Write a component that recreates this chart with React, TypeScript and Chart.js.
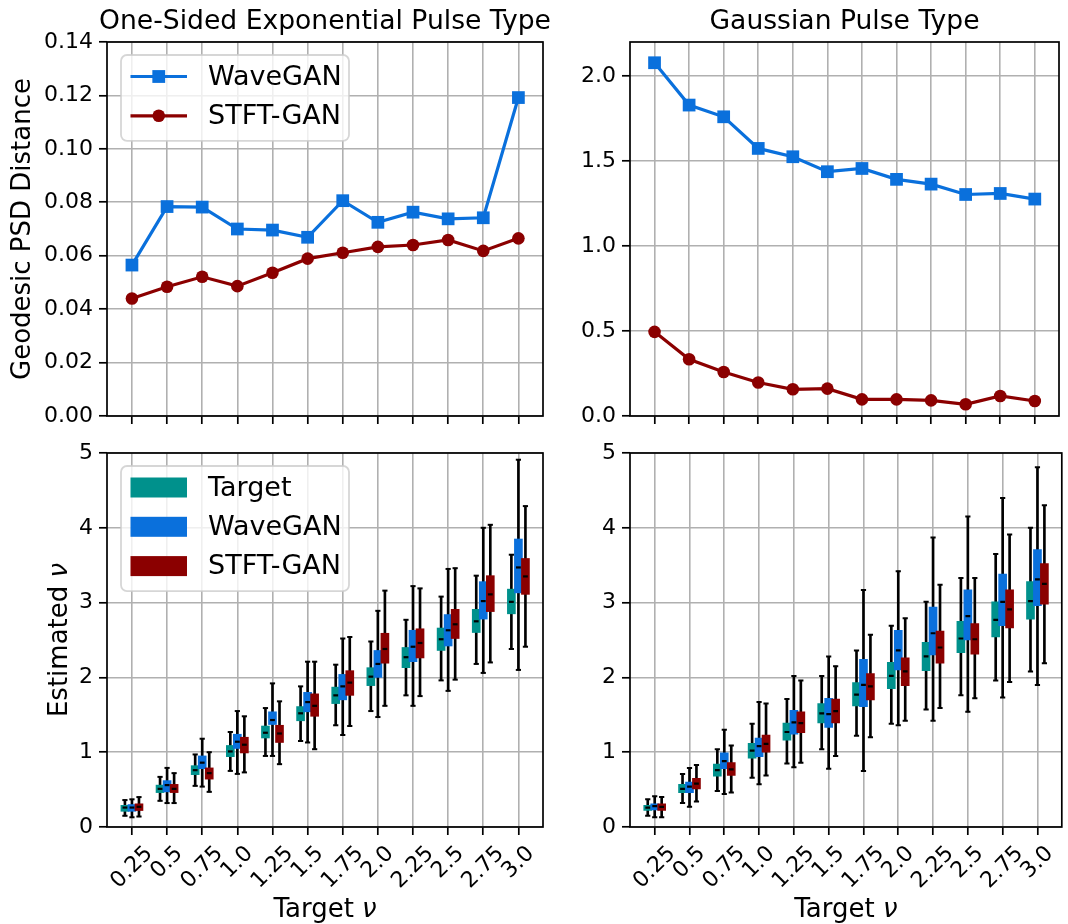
import React, { useEffect, useRef } from 'react';
import { Chart, registerables } from 'chart.js';

Chart.register(...registerables);

const FONT = "'DejaVu Sans', sans-serif";
Chart.defaults.font.family = FONT;

const W = 1068;
const H = 924;
const Y_AXIS_W = 100;

const TICK_PX = 22;
const TITLE_PX = 26.6;
const LABEL_PX = 26;
const LEGEND_PX = 27;

const TEAL = '#00918C';
const BLUE = '#0A70DC';
const DARK_RED = '#8B0000';
const GRID = '#b0b0b0';

// Target shape parameter values (x categories)
const TARGET_NU = ['0.25', '0.5', '0.75', '1.0', '1.25', '1.5', '1.75', '2.0', '2.25', '2.5', '2.75', '3.0'];

// y-axis tick values
const Y_TICKS_EXP_DIST = [0, 0.02, 0.04, 0.06, 0.08, 0.1, 0.12, 0.14];
const Y_TICKS_GAUSS_DIST = [0, 0.5, 1.0, 1.5, 2.0];
const Y_TICKS_NU = [0, 1, 2, 3, 4, 5];

// Geodesic PSD distance, one-sided exponential pulse
const EXP_DIST_WAVEGAN = [0.0565, 0.0784, 0.0782, 0.07, 0.0696, 0.0669, 0.0806, 0.0725, 0.0763, 0.0738, 0.0742, 0.1192];
const EXP_DIST_STFTGAN = [0.044, 0.0484, 0.0521, 0.0486, 0.0536, 0.0589, 0.0611, 0.0633, 0.064, 0.0659, 0.0618, 0.0665];

// Geodesic PSD distance, Gaussian pulse
const GAUSS_DIST_WAVEGAN = [2.078, 1.829, 1.76, 1.574, 1.525, 1.437, 1.456, 1.392, 1.364, 1.303, 1.309, 1.276];
const GAUSS_DIST_STFTGAN = [0.495, 0.334, 0.259, 0.197, 0.157, 0.161, 0.098, 0.098, 0.092, 0.069, 0.118, 0.088];

// Estimated nu box statistics: [whisker low, Q1, median, Q3, whisker high]
const EXP_NU_TARGET = [
  [0.15, 0.21, 0.26, 0.29, 0.36], [0.35, 0.46, 0.51, 0.56, 0.67], [0.55, 0.7, 0.76, 0.82, 0.97],
  [0.75, 0.94, 1.01, 1.09, 1.27], [0.95, 1.19, 1.26, 1.35, 1.59], [1.15, 1.42, 1.52, 1.61, 1.88],
  [1.36, 1.65, 1.76, 1.87, 2.17], [1.55, 1.89, 2.01, 2.13, 2.48], [1.76, 2.13, 2.27, 2.4, 2.77],
  [1.96, 2.36, 2.51, 2.66, 3.08], [2.18, 2.6, 2.75, 2.91, 3.36], [2.38, 2.85, 3.01, 3.18, 3.64],
];
const EXP_NU_WAVEGAN = [
  [0.13, 0.21, 0.26, 0.3, 0.37], [0.32, 0.47, 0.56, 0.62, 0.79], [0.54, 0.78, 0.86, 0.95, 1.18],
  [0.71, 1.05, 1.14, 1.24, 1.55], [0.95, 1.37, 1.43, 1.54, 1.92], [1.13, 1.54, 1.67, 1.8, 2.21],
  [1.23, 1.7, 1.88, 2.04, 2.52], [1.47, 2.0, 2.18, 2.36, 2.89], [1.62, 2.21, 2.41, 2.63, 3.22],
  [1.82, 2.42, 2.63, 2.84, 3.45], [2.06, 2.78, 3.02, 3.28, 4.0], [2.1, 3.13, 3.47, 3.85, 4.91],
];
const EXP_NU_STFTGAN = [
  [0.14, 0.22, 0.27, 0.31, 0.4], [0.32, 0.46, 0.51, 0.57, 0.72], [0.47, 0.64, 0.72, 0.79, 1.0],
  [0.73, 0.99, 1.1, 1.2, 1.48], [0.84, 1.13, 1.25, 1.36, 1.68], [1.04, 1.48, 1.62, 1.78, 2.21],
  [1.35, 1.76, 1.93, 2.09, 2.54], [1.62, 2.19, 2.38, 2.59, 3.16], [1.75, 2.26, 2.46, 2.65, 3.19],
  [1.97, 2.52, 2.71, 2.91, 3.46], [2.2, 2.88, 3.11, 3.36, 4.04], [2.41, 3.11, 3.35, 3.59, 4.29],
];

const GAUSS_NU_TARGET = [
  [0.15, 0.22, 0.26, 0.29, 0.37], [0.32, 0.46, 0.51, 0.57, 0.71], [0.48, 0.68, 0.76, 0.84, 1.04],
  [0.66, 0.92, 1.02, 1.12, 1.38], [0.85, 1.16, 1.27, 1.39, 1.71], [1.04, 1.39, 1.52, 1.65, 2.02],
  [1.22, 1.62, 1.77, 1.93, 2.36], [1.38, 1.85, 2.02, 2.2, 2.69], [1.57, 2.09, 2.28, 2.47, 3.01],
  [1.76, 2.33, 2.52, 2.75, 3.33], [1.96, 2.54, 2.77, 3.01, 3.65], [2.08, 2.78, 3.02, 3.28, 4.0],
];
const GAUSS_NU_WAVEGAN = [
  [0.13, 0.23, 0.28, 0.31, 0.41], [0.27, 0.46, 0.54, 0.6, 0.79], [0.44, 0.78, 0.88, 0.99, 1.3],
  [0.57, 0.94, 1.08, 1.19, 1.67], [0.8, 1.24, 1.4, 1.56, 2.02], [0.78, 1.33, 1.51, 1.72, 2.28],
  [0.75, 1.61, 1.9, 2.24, 3.17], [1.36, 2.1, 2.36, 2.63, 3.42], [1.42, 2.3, 2.59, 2.94, 3.87],
  [1.54, 2.5, 2.82, 3.17, 4.15], [1.73, 2.69, 3.01, 3.38, 4.4], [1.9, 2.96, 3.31, 3.71, 4.81],
];
const GAUSS_NU_STFTGAN = [
  [0.13, 0.22, 0.27, 0.31, 0.4], [0.34, 0.51, 0.58, 0.65, 0.83], [0.46, 0.69, 0.77, 0.86, 1.09],
  [0.69, 1.0, 1.11, 1.23, 1.65], [0.86, 1.26, 1.39, 1.54, 1.96], [0.95, 1.39, 1.55, 1.71, 2.15],
  [1.2, 1.7, 1.88, 2.05, 2.57], [1.42, 1.89, 2.08, 2.26, 2.79], [1.59, 2.19, 2.4, 2.62, 3.24],
  [1.72, 2.31, 2.51, 2.72, 3.33], [1.94, 2.66, 2.91, 3.17, 3.91], [2.19, 2.98, 3.25, 3.52, 4.3],
];

type Area = { left: number; top: number; right: number; bottom: number };

const AREA_TL: Area = { left: 107, top: 42, right: 543, bottom: 416 };
const AREA_TR: Area = { left: 630, top: 42, right: 1065, bottom: 416 };
const AREA_BL: Area = { left: 107, top: 453, right: 543, bottom: 827 };
const AREA_BR: Area = { left: 630, top: 453, right: 1065, bottom: 827 };

type TextPart = { text: string; italic?: boolean };

function drawParts(ctx: CanvasRenderingContext2D, parts: TextPart[], cx: number, y: number, px: number) {
  const fonts = parts.map((p) => `${p.italic ? 'italic ' : ''}${px}px ${FONT}`);
  const widths = parts.map((p, i) => {
    ctx.font = fonts[i];
    return ctx.measureText(p.text).width;
  });
  const total = widths.reduce((a, b) => a + b, 0);
  let x = cx - total / 2;
  ctx.textAlign = 'left';
  parts.forEach((p, i) => {
    ctx.font = fonts[i];
    ctx.fillText(p.text, x, y);
    x += widths[i];
  });
}

type LegendItem = { label: string; color: string; marker?: 'rect' | 'circle' };

// Frame, rotated x tick labels, titles, axis labels and legend
const panelDecor = {
  id: 'panelDecor',
  afterDraw(chart: any, _args: any, opts: any) {
    const { ctx, chartArea: a } = chart;
    const xs = chart.scales.x;
    ctx.save();
    ctx.fillStyle = '#000';

    // axes frame
    ctx.strokeStyle = '#000';
    ctx.lineWidth = 1.7;
    ctx.strokeRect(a.left, a.top, a.right - a.left, a.bottom - a.top);

    // rotated category labels
    if (opts.xTickLabels) {
      ctx.font = `${TICK_PX}px ${FONT}`;
      ctx.textAlign = 'center';
      ctx.textBaseline = 'middle';
      TARGET_NU.forEach((lab, i) => {
        const px = xs.getPixelForValue(i);
        const w = ctx.measureText(lab).width;
        const half = ((w + TICK_PX) * Math.SQRT1_2) / 2;
        ctx.save();
        ctx.translate(px, a.bottom + 15.5 + half);
        ctx.rotate(-Math.PI / 4);
        ctx.fillText(lab, 0, 0);
        ctx.restore();
      });
    }

    ctx.textBaseline = 'alphabetic';
    if (opts.title) {
      drawParts(ctx, [{ text: opts.title }], (a.left + a.right) / 2, a.top - 13, TITLE_PX);
    }
    if (opts.xLabel) {
      drawParts(ctx, opts.xLabel, (a.left + a.right) / 2, 917, LABEL_PX);
    }
    if (opts.yLabel) {
      ctx.save();
      ctx.translate(opts.yLabelX, (a.top + a.bottom) / 2);
      ctx.rotate(-Math.PI / 2);
      drawParts(ctx, opts.yLabel, 0, 0, LABEL_PX);
      ctx.restore();
    }

    // legend
    if (opts.legend) {
      const items: LegendItem[] = opts.legend.items;
      const bx = a.left + 14;
      const by = a.top + 13;
      const bw = 228;
      const step = 39.3;
      const bh = 21.5 + (items.length - 1) * step + 25;
      const r = 6;
      ctx.beginPath();
      ctx.moveTo(bx + r, by);
      ctx.arcTo(bx + bw, by, bx + bw, by + bh, r);
      ctx.arcTo(bx + bw, by + bh, bx, by + bh, r);
      ctx.arcTo(bx, by + bh, bx, by, r);
      ctx.arcTo(bx, by, bx + bw, by, r);
      ctx.closePath();
      ctx.fillStyle = 'rgba(255,255,255,0.8)';
      ctx.fill();
      ctx.strokeStyle = 'rgba(204,204,204,0.8)';
      ctx.lineWidth = 1.8;
      ctx.stroke();

      items.forEach((it, k) => {
        const cy = by + 21.5 + k * step;
        const hx0 = bx + 9.5;
        const hx1 = bx + 66;
        if (opts.legend.kind === 'line') {
          ctx.strokeStyle = it.color;
          ctx.lineWidth = 3.2;
          ctx.beginPath();
          ctx.moveTo(hx0, cy);
          ctx.lineTo(hx1, cy);
          ctx.stroke();
          ctx.fillStyle = it.color;
          const mx = (hx0 + hx1) / 2;
          if (it.marker === 'rect') {
            ctx.fillRect(mx - 6.4, cy - 6.4, 12.8, 12.8);
          } else {
            ctx.beginPath();
            ctx.arc(mx, cy, 6.3, 0, Math.PI * 2);
            ctx.fill();
          }
        } else {
          ctx.fillStyle = it.color;
          ctx.fillRect(hx0, cy - 10, hx1 - hx0, 20);
        }
        ctx.fillStyle = '#000';
        ctx.font = `${LEGEND_PX}px ${FONT}`;
        ctx.textAlign = 'left';
        ctx.textBaseline = 'middle';
        ctx.fillText(it.label, bx + 87, cy + 1);
      });
    }
    ctx.restore();
  },
};

function baseOptions(area: Area, yMin: number, yMax: number, yTicks: number[], yDigits: number, decor: any) {
  const gridOpts = {
    color: GRID,
    lineWidth: 1.6,
    tickColor: '#000',
    tickWidth: 1.7,
    tickLength: 8,
    drawTicks: true,
    offset: false,
  };
  return {
    responsive: false,
    animation: false,
    events: [],
    layout: {
      padding: {
        left: area.left - Y_AXIS_W,
        top: area.top,
        right: W - area.right,
        bottom: H - area.bottom,
      },
    },
    plugins: {
      legend: { display: false },
      tooltip: { enabled: false },
      panelDecor: decor,
    },
    scales: {
      x: {
        type: 'linear',
        min: -0.71,
        max: TARGET_NU.length - 1 + 0.7,
        offset: false,
        afterBuildTicks: (s: any) => {
          s.ticks = TARGET_NU.map((_, i) => ({ value: i }));
        },
        afterFit: (s: any) => {
          s.height = 0;
        },
        ticks: { display: false },
        grid: gridOpts,
        border: { display: false },
      },
      y: {
        type: 'linear',
        min: yMin,
        max: yMax,
        afterBuildTicks: (s: any) => {
          s.ticks = yTicks.map((v) => ({ value: v }));
        },
        afterFit: (s: any) => {
          s.width = Y_AXIS_W;
        },
        ticks: {
          color: '#000',
          padding: 6,
          font: { family: FONT, size: TICK_PX },
          callback: (v: number) => Number(v).toFixed(yDigits),
        },
        grid: gridOpts,
        border: { display: false },
      },
    },
  };
}

function distanceConfig(area: Area, wave: number[], stft: number[], yMax: number, yTicks: number[], yDigits: number, decor: any) {
  return {
    type: 'line',
    data: {
      datasets: [
        {
          label: 'WaveGAN',
          data: wave.map((y, i) => ({ x: i, y })),
          borderColor: BLUE,
          backgroundColor: BLUE,
          pointBackgroundColor: BLUE,
          borderWidth: 3.2,
          pointStyle: 'rect',
          pointRadius: 9,
          pointBorderWidth: 0,
          tension: 0,
        },
        {
          label: 'STFT-GAN',
          data: stft.map((y, i) => ({ x: i, y })),
          borderColor: DARK_RED,
          backgroundColor: DARK_RED,
          pointBackgroundColor: DARK_RED,
          borderWidth: 3.2,
          pointStyle: 'circle',
          pointRadius: 6.3,
          pointBorderWidth: 0,
          tension: 0,
        },
      ],
    },
    options: baseOptions(area, 0, yMax, yTicks, yDigits, decor),
  };
}

function boxConfig(area: Area, series: { label: string; color: string; stats: number[][] }[], decor: any) {
  const datasets: any[] = [];
  series.forEach((s, k) => {
    const off = (k - 1) * 0.2;
    // whisker span
    datasets.push({
      type: 'bar',
      label: `${s.label} whisker`,
      data: s.stats.map((b, i) => ({ x: i + off, y: [b[0], b[4]] })),
      backgroundColor: '#000',
      borderWidth: 0,
      barThickness: 2,
      grouped: false,
      order: 40,
    });
    // interquartile box
    datasets.push({
      type: 'bar',
      label: s.label,
      data: s.stats.map((b, i) => ({ x: i + off, y: [b[1], b[3]] })),
      backgroundColor: s.color,
      borderWidth: 0,
      barThickness: 8,
      grouped: false,
      order: 32 - k,
    });
    // whisker caps
    datasets.push({
      type: 'scatter',
      label: `${s.label} caps`,
      data: s.stats.flatMap((b, i) => [
        { x: i + off, y: b[0] },
        { x: i + off, y: b[4] },
      ]),
      pointStyle: 'line',
      pointRadius: 2.6,
      pointBorderWidth: 2,
      pointBorderColor: '#000',
      borderColor: '#000',
      order: 5,
    });
    // median
    datasets.push({
      type: 'scatter',
      label: `${s.label} median`,
      data: s.stats.map((b, i) => ({ x: i + off, y: b[2] })),
      pointStyle: 'line',
      pointRadius: 2.4,
      pointBorderWidth: 2.2,
      pointBorderColor: '#000',
      borderColor: '#000',
      order: 1,
    });
  });
  return {
    type: 'bar',
    data: { datasets },
    options: baseOptions(area, 0, 5, Y_TICKS_NU, 0, decor),
  };
}

const NU_LABEL_X: TextPart[] = [{ text: 'Target ' }, { text: 'ν', italic: true }];

function Panel({ config }: { config: () => any }) {
  const ref = useRef<HTMLCanvasElement | null>(null);
  useEffect(() => {
    if (!ref.current) return;
    const chart = new Chart(ref.current, { ...config(), plugins: [panelDecor] } as any);
    return () => chart.destroy();
  }, []);
  return (
    <canvas
      ref={ref}
      width={W}
      height={H}
      style={{ position: 'absolute', left: 0, top: 0, width: W, height: H }}
    />
  );
}

export default function App() {
  return (
    <div style={{ position: 'absolute', left: 0, top: 0, width: W, height: H, background: '#fff' }}>
      <Panel
        config={() =>
          distanceConfig(AREA_TL, EXP_DIST_WAVEGAN, EXP_DIST_STFTGAN, 0.14, Y_TICKS_EXP_DIST, 2, {
            title: 'One-Sided Exponential Pulse Type',
            yLabel: [{ text: 'Geodesic PSD Distance' }],
            yLabelX: 30,
            legend: {
              kind: 'line',
              items: [
                { label: 'WaveGAN', color: BLUE, marker: 'rect' },
                { label: 'STFT-GAN', color: DARK_RED, marker: 'circle' },
              ],
            },
          })
        }
      />
      <Panel
        config={() =>
          distanceConfig(AREA_TR, GAUSS_DIST_WAVEGAN, GAUSS_DIST_STFTGAN, 2.2, Y_TICKS_GAUSS_DIST, 1, {
            title: 'Gaussian Pulse Type',
          })
        }
      />
      <Panel
        config={() =>
          boxConfig(
            AREA_BL,
            [
              { label: 'Target', color: TEAL, stats: EXP_NU_TARGET },
              { label: 'WaveGAN', color: BLUE, stats: EXP_NU_WAVEGAN },
              { label: 'STFT-GAN', color: DARK_RED, stats: EXP_NU_STFTGAN },
            ],
            {
              xTickLabels: true,
              xLabel: NU_LABEL_X,
              yLabel: [{ text: 'Estimated ' }, { text: 'ν', italic: true }],
              yLabelX: 67,
              legend: {
                kind: 'patch',
                items: [
                  { label: 'Target', color: TEAL },
                  { label: 'WaveGAN', color: BLUE },
                  { label: 'STFT-GAN', color: DARK_RED },
                ],
              },
            }
          )
        }
      />
      <Panel
        config={() =>
          boxConfig(
            AREA_BR,
            [
              { label: 'Target', color: TEAL, stats: GAUSS_NU_TARGET },
              { label: 'WaveGAN', color: BLUE, stats: GAUSS_NU_WAVEGAN },
              { label: 'STFT-GAN', color: DARK_RED, stats: GAUSS_NU_STFTGAN },
            ],
            { xTickLabels: true, xLabel: NU_LABEL_X }
          )
        }
      />
    </div>
  );
}
